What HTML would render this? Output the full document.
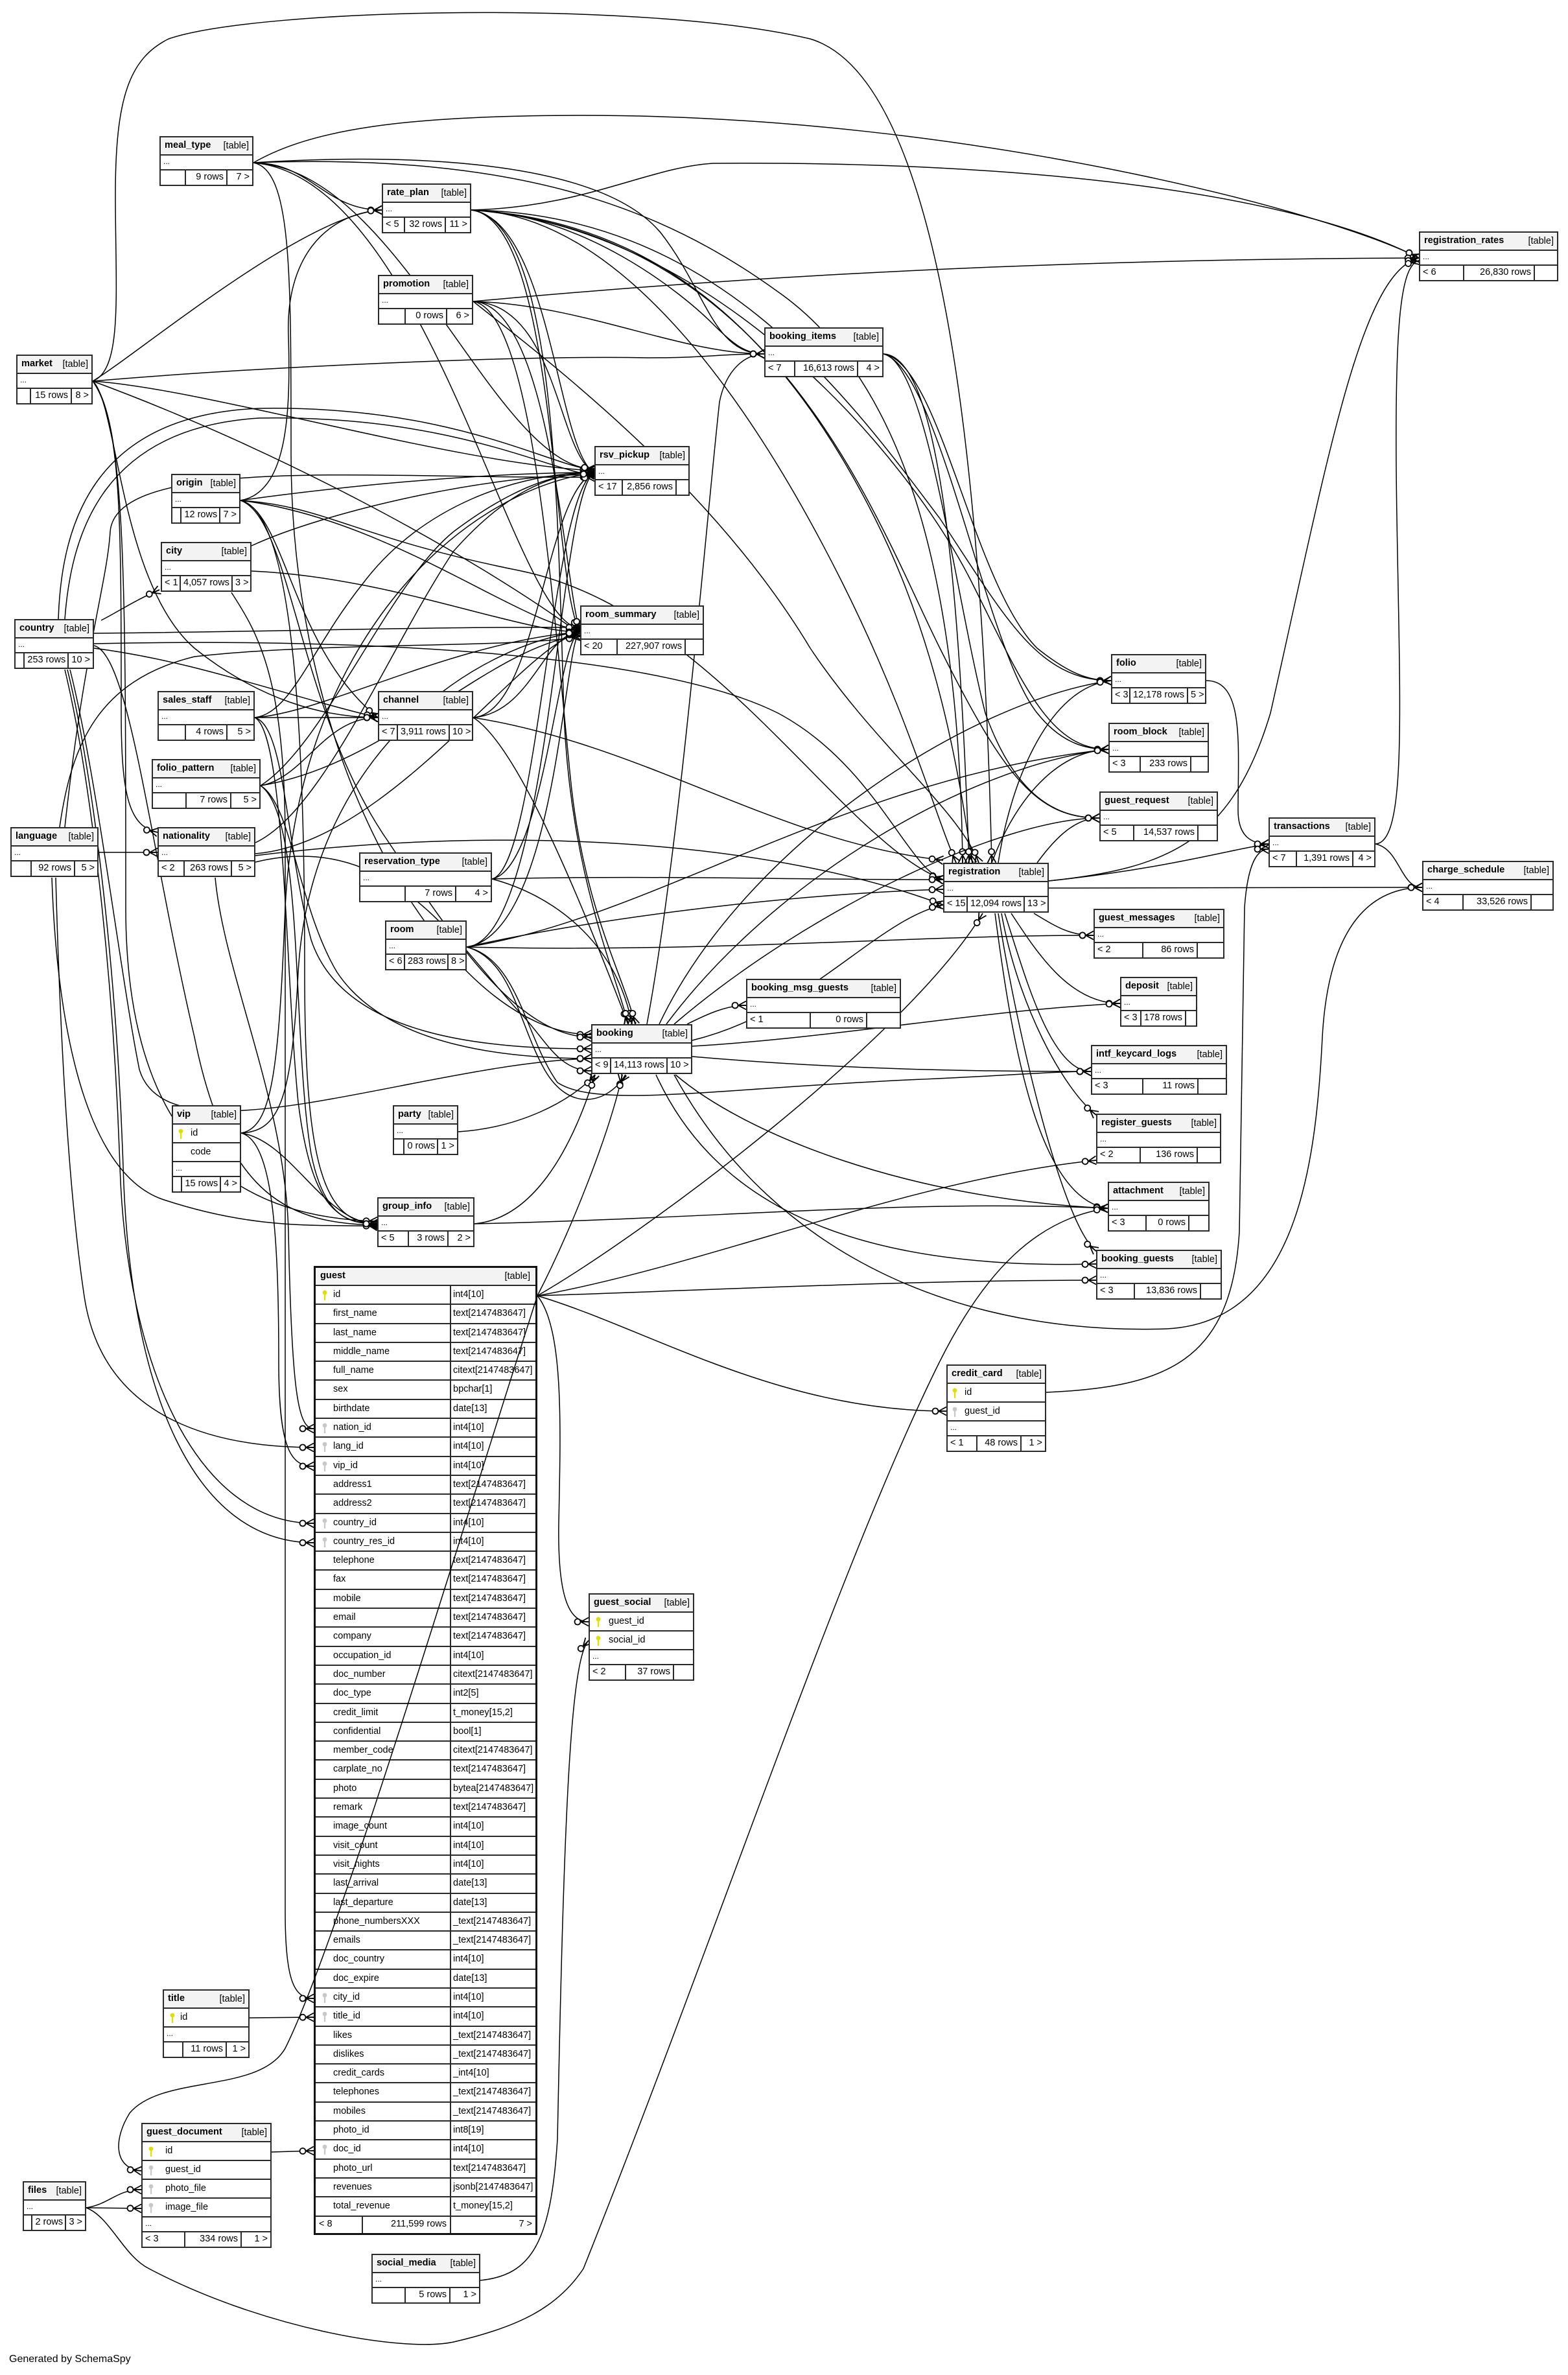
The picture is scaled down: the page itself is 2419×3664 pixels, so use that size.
<!DOCTYPE html>
<html><head><meta charset="utf-8">
<style>
html,body{margin:0;padding:0;background:#fff;}
body{width:2419px;height:3664px;position:relative;overflow:hidden;font-family:"Liberation Sans",Arial,sans-serif;color:#000;}
.t{position:absolute;z-index:2;border:2px solid #2a2a2a;background:#fff;box-sizing:border-box;font-size:14.5px;}
.h{height:28px;background:#f3f3f3;border-bottom:2px solid #2a2a2a;box-sizing:border-box;display:flex;justify-content:space-between;align-items:center;padding:0 5px 0 6px;white-space:nowrap;}
.h b{font-size:14.6px;margin-top:-3px;}
.r{height:29px;border-bottom:2px solid #2a2a2a;box-sizing:border-box;position:relative;white-space:nowrap;line-height:27px;padding-left:27px;}
.d{height:23px;border-bottom:2px solid #2a2a2a;box-sizing:border-box;font-size:12px;line-height:18px;padding-left:4px;}
.f{height:22px;display:flex;line-height:21px;white-space:nowrap;}
.f span{border-right:2px solid #2a2a2a;box-sizing:border-box;text-align:right;padding:0 4px;}
.f span:first-child{text-align:left;}
.f span:last-child{border-right:none;flex:1;}
.k{position:absolute;left:8px;top:6px;}
.gt{border:3px solid #111;}
.gt .h{height:28px;padding-left:7px;padding-right:8px;}
.g{height:29.3px;border-bottom:2px solid #2a2a2a;box-sizing:border-box;display:flex;line-height:27px;position:relative;white-space:nowrap;}
.g .n{width:209px;flex:none;border-right:2px solid #2a2a2a;box-sizing:border-box;padding-left:27px;}
.g .y{padding-left:3px;overflow:hidden;}
.g .k{left:10px;}
.gf{height:25px;display:flex;line-height:23px;white-space:nowrap;}
.gf span{border-right:2px solid #2a2a2a;box-sizing:border-box;text-align:right;padding:0 5px;}
.gf span:first-child{text-align:left;}
.gf span:last-child{border-right:none;flex:1;}
#edges{position:absolute;left:0;top:0;z-index:1;}
#over{position:absolute;left:0;top:0;z-index:3;}
.gen{position:absolute;left:14px;top:3631px;font-size:16px;}
</style></head><body>

<svg id="edges" width="2419" height="3664" viewBox="0 0 2419 3664">
<defs><marker id="cf" markerUnits="userSpaceOnUse" markerWidth="34" markerHeight="22" refX="30" refY="11" orient="auto" overflow="visible"><path d="M18,11 L30,4.5 M18,11 L30,11 M18,11 L30,17.5" stroke="#000" stroke-width="1.8" fill="none"/><circle cx="13" cy="11" r="4.5" fill="#fff" stroke="#000" stroke-width="1.8"/></marker></defs>
<g fill="none" stroke="#000" stroke-width="1.5" marker-end="url(#cf)">
<path d="M391,251 C480,251 500,324 589,324"/>
<path d="M391,251 C480,200 620,178 900,178 C1500,178 2060,330 2189,398"/>
<path d="M391,251 C650,235 930,250 1020,360 C1090,450 1100,546 1179,546"/>
<path d="M391,251 C450,262 449,420 449,700 C449,1200 700,1596 912,1596"/>
<path d="M391,251 C620,262 760,720 917,724"/>
<path d="M391,251 C660,275 790,960 895,970"/>
<path d="M391,251 C800,236 1020,320 1200,450 C1400,590 1480,900 1485,1331"/>
<path d="M143,588 C210,548 470,330 589,324"/>
<path d="M143,588 C190,570 178,450 178,300 C178,150 200,90 260,60 C400,12 1000,0 1250,60 C1450,120 1515,700 1530,1331"/>
<path d="M143,588 C400,566 800,548 1000,552 C1090,552 1110,546 1179,546"/>
<path d="M143,588 C420,690 720,850 895,978"/>
<path d="M143,588 C320,600 700,716 917,726"/>
<path d="M143,588 C181,620 185,900 300,1000 C400,1080 500,1107 583,1107"/>
<path d="M143,588 C187,650 187,800 187,1100 C187,1230 200,1275 243,1284"/>
<path d="M143,588 C194,650 194,900 194,1400 C194,1800 400,1880 582,1884"/>
<path d="M371,772 C600,740 800,729 917,729"/>
<path d="M371,772 C600,800 800,962 895,972"/>
<path d="M371,772 C440,760 449,650 445,520 C440,400 500,330 589,324"/>
<path d="M371,772 C440,790 450,1000 583,1107"/>
<path d="M371,772 C450,800 460,1100 600,1300 C700,1450 800,1600 912,1600"/>
<path d="M371,772 C460,790 470,1200 470,1500 C470,1800 500,1888 582,1888"/>
<path d="M371,772 C500,780 550,830 800,880 C1100,940 1300,1300 1455,1357"/>
<path d="M388,881 C600,890 800,975 895,975"/>
<path d="M388,842 C500,790 750,732 917,732"/>
<path d="M357,914 C400,980 440,1050 440,1300 L440,2950 C440,3060 455,3083 484,3083"/>
<path d="M156,957 C180,945 210,925 246,910"/>
<path d="M90,955 C95,800 150,640 400,630 C700,625 850,720 917,725"/>
<path d="M100,955 C110,820 160,660 400,645 C700,640 850,728 917,733"/>
<path d="M145,977 C400,975 700,966 895,968"/>
<path d="M145,993 C500,985 1000,1000 1200,1100 C1350,1180 1400,1340 1455,1357"/>
<path d="M145,1000 C300,1020 430,1070 583,1107"/>
<path d="M100,1033 C140,1200 175,1500 185,1800 C195,2100 300,2350 484,2350"/>
<path d="M104,1033 C145,1200 180,1500 190,1800 C200,2150 300,2380 484,2380"/>
<path d="M108,1033 C150,1200 185,1500 215,1650 C260,1800 650,1640 912,1633"/>
<path d="M145,996 C200,1010 230,1300 300,1600 C350,1850 450,1888 582,1890"/>
<path d="M393,1107 L583,1107"/>
<path d="M393,1107 C450,1100 480,1000 560,900 C650,780 800,729 917,729"/>
<path d="M393,1107 C500,1100 700,990 895,975"/>
<path d="M393,1107 C440,1120 440,1300 480,1450 C530,1600 750,1618 912,1618"/>
<path d="M393,1107 C440,1130 440,1500 460,1700 C480,1860 520,1888 582,1888"/>
<path d="M402,1212 C470,1200 500,1107 583,1107"/>
<path d="M402,1212 C500,1150 600,900 700,820 C780,760 850,729 917,729"/>
<path d="M402,1212 C600,1180 750,1000 895,980"/>
<path d="M402,1212 C450,1240 460,1400 520,1500 C600,1620 800,1633 912,1633"/>
<path d="M402,1212 C470,1260 450,1600 480,1780 C500,1880 540,1888 582,1888"/>
<path d="M152,1315 L243,1315"/>
<path d="M86,1354 C90,1500 100,1800 130,2000 C160,2200 350,2233 484,2233"/>
<path d="M92,1276 C110,1150 150,1050 300,1013 C500,990 800,1000 895,982"/>
<path d="M100,1276 C130,1000 165,900 170,820 C180,700 600,740 917,736"/>
<path d="M80,1354 C85,1500 110,1800 250,1850 C400,1900 500,1888 582,1892"/>
<path d="M332,1354 C345,1500 440,1700 445,1900 C450,2150 460,2204 484,2204"/>
<path d="M394,1300 C500,1250 600,1000 700,850 C780,760 850,729 917,729"/>
<path d="M394,1317 C600,1300 800,1000 895,975"/>
<path d="M394,1330 C600,1280 700,1450 800,1560 C840,1600 860,1652 912,1652"/>
<path d="M394,1320 C800,1270 1200,1300 1455,1396"/>
<path d="M730,1107 C830,1100 840,760 917,729"/>
<path d="M730,1107 C820,1100 840,975 895,975"/>
<path d="M730,1107 C800,1150 900,1400 969,1580"/>
<path d="M730,1107 C1000,1150 1200,1300 1455,1327"/>
<path d="M759,1356 C830,1340 850,760 917,729"/>
<path d="M759,1356 C840,1340 860,980 895,975"/>
<path d="M759,1356 C1000,1350 1200,1357 1455,1357"/>
<path d="M759,1356 C850,1380 950,1450 975,1580"/>
<path d="M720,1461 C850,1450 860,760 917,729"/>
<path d="M720,1461 C860,1440 870,980 895,975"/>
<path d="M720,1461 C900,1420 1200,1380 1455,1372"/>
<path d="M720,1461 C1100,1470 1400,1443 1687,1443"/>
<path d="M720,1461 C800,1480 810,1600 860,1670 C920,1710 1100,1680 1400,1666 C1550,1660 1620,1653 1683,1653"/>
<path d="M720,1461 C1000,1420 1300,1200 1710,1156"/>
<path d="M720,1461 C790,1480 800,1580 840,1650 C880,1720 940,1700 965,1658"/>
<path d="M727,324 C900,320 1000,258 1100,252 C1600,248 2000,300 2189,398"/>
<path d="M727,324 C900,330 1050,450 1100,500 C1130,530 1150,546 1179,546"/>
<path d="M727,324 C850,340 860,700 917,729"/>
<path d="M727,324 C860,340 850,900 895,975"/>
<path d="M727,324 C860,340 860,800 870,1100 C880,1350 950,1500 969,1580"/>
<path d="M727,324 C1000,340 1200,500 1350,800 C1450,1000 1480,1200 1500,1331"/>
<path d="M727,324 C1100,330 1300,600 1450,800 C1550,950 1600,1050 1714,1050"/>
<path d="M727,324 C1200,360 1350,800 1450,1000 C1550,1200 1600,1262 1696,1262"/>
<path d="M727,324 C1100,350 1400,700 1500,900 C1580,1060 1620,1156 1710,1156"/>
<path d="M727,324 C950,330 1150,600 1300,900 C1400,1100 1440,1250 1475,1331"/>
<path d="M730,465 C1000,440 1500,400 2189,398"/>
<path d="M730,465 C900,470 1050,546 1179,546"/>
<path d="M730,465 C860,470 860,700 917,729"/>
<path d="M730,465 C850,470 870,900 895,975"/>
<path d="M730,465 C850,560 1100,750 1250,1000 C1350,1150 1480,1250 1510,1331"/>
<path d="M730,465 C820,480 850,900 880,1200 C900,1400 960,1500 980,1580"/>
<path d="M1363,546 C1450,550 1480,900 1495,1331"/>
<path d="M1363,546 C1450,560 1500,900 1600,1000 C1650,1040 1680,1050 1714,1050"/>
<path d="M1363,546 C1450,570 1520,1000 1600,1100 C1640,1150 1680,1156 1710,1156"/>
<path d="M1363,546 C1430,560 1470,900 1520,1100 C1570,1240 1640,1262 1696,1262"/>
<path d="M1618,1359 C1800,1340 1900,1300 1960,1100 C2050,700 2100,420 2189,398"/>
<path d="M1618,1370 L2194,1369"/>
<path d="M1618,1359 C1800,1340 1900,1310 1957,1302"/>
<path d="M1595,1409 C1630,1430 1650,1443 1687,1443"/>
<path d="M1560,1409 C1600,1470 1650,1548 1728,1548"/>
<path d="M1550,1409 C1580,1500 1620,1653 1683,1653"/>
<path d="M1545,1409 C1570,1550 1640,1680 1691,1720"/>
<path d="M1535,1409 C1560,1600 1600,1850 1709,1864"/>
<path d="M1540,1409 C1570,1600 1640,1890 1691,1930"/>
<path d="M1540,1331 C1560,1200 1620,1060 1714,1050"/>
<path d="M1530,1331 C1560,1250 1620,1160 1710,1156"/>
<path d="M1600,1331 C1630,1290 1660,1262 1696,1262"/>
<path d="M1861,1050 C1920,1050 1910,1150 1910,1250 C1910,1290 1930,1302 1957,1302"/>
<path d="M2122,1302 C2170,1300 2160,1100 2155,800 C2150,500 2160,410 2189,402"/>
<path d="M2122,1302 C2160,1310 2160,1369 2194,1369"/>
<path d="M1614,2148 C1800,2140 1900,2100 1912,1900 L1920,1400 C1925,1330 1940,1310 1957,1310"/>
<path d="M1060,1580 C1090,1565 1120,1551 1151,1551"/>
<path d="M998,1580 C1050,1300 1090,800 1110,620 C1120,570 1150,546 1179,546"/>
<path d="M1017,1580 C1150,1300 1500,1080 1714,1050"/>
<path d="M1028,1580 C1200,1350 1500,1180 1710,1156"/>
<path d="M1040,1580 C1250,1400 1550,1262 1696,1262"/>
<path d="M1068,1605 C1250,1560 1350,1420 1455,1396"/>
<path d="M1068,1614 C1300,1600 1500,1560 1728,1548"/>
<path d="M1068,1630 C1300,1650 1500,1653 1683,1653"/>
<path d="M1012,1658 C1100,1850 1300,1960 1691,1950"/>
<path d="M1040,1658 C1200,1950 1500,2060 1800,2050 C2000,2040 2030,1800 2040,1600 C2050,1420 2120,1370 2194,1369"/>
<path d="M1042,1658 C1150,1750 1400,1850 1709,1864"/>
<path d="M707,1746 C800,1740 880,1700 918,1658"/>
<path d="M372,1748 C420,1760 430,1900 430,2100 C430,2240 450,2262 484,2262"/>
<path d="M372,1748 C450,1760 500,1888 582,1888"/>
<path d="M372,1748 C420,1740 430,1650 440,1400 C460,1000 700,760 917,729"/>
<path d="M372,1748 C430,1745 450,1700 460,1500 C480,1150 750,990 895,975"/>
<path d="M732,1888 C820,1880 880,1780 918,1658"/>
<path d="M732,1888 C1100,1880 1400,1850 1709,1864"/>
<path d="M829,1999 C1000,2050 1200,2177 1460,2177"/>
<path d="M829,1999 C870,2050 865,2200 862,2350 C860,2470 880,2502 908,2502"/>
<path d="M829,1999 C1100,1990 1400,1975 1691,1975"/>
<path d="M829,1999 C1100,1950 1400,1820 1691,1790"/>
<path d="M829,1999 C880,1900 940,1750 960,1658"/>
<path d="M829,1999 C1000,1900 1400,1600 1516,1409"/>
<path d="M385,3113 L484,3112"/>
<path d="M419,3320 L484,3318"/>
<path d="M133,3406 C170,3400 180,3378 218,3378"/>
<path d="M133,3406 L218,3407"/>
<path d="M133,3406 C170,3420 190,3480 230,3500 C400,3590 620,3630 700,3613 C800,3590 860,3560 900,3500 C1100,3000 1300,2400 1450,2100 C1520,1960 1600,1880 1709,1864"/>
<path d="M741,3518 C820,3510 850,3460 860,3300 C870,2800 880,2560 908,2531"/>
</g>
</svg>

<svg id="over" width="2419" height="3664" viewBox="0 0 2419 3664" style="pointer-events:none">
<defs><marker id="cf2" markerUnits="userSpaceOnUse" markerWidth="34" markerHeight="22" refX="30" refY="11" orient="auto" overflow="visible"><path d="M18,11 L30,4.5 M18,11 L30,11 M18,11 L30,17.5" stroke="#000" stroke-width="1.8" fill="none"/><circle cx="13" cy="11" r="4.5" fill="#fff" stroke="#000" stroke-width="1.8"/></marker></defs>
<path d="M829,1999 C700,2400 520,3000 440,3160 C400,3230 250,3200 200,3260 C175,3300 175,3345 218,3349" fill="none" stroke="#000" stroke-width="1.5" marker-end="url(#cf2)"/>
</svg>

<div class="t" style="left:246px;top:210px;width:145px"><div class="h"><b>meal_type</b><span>[table]</span></div><div class="d">...</div><div class="f"><span style="width:39px"></span><span style="width:64px">9 rows</span><span>7 &gt;</span></div></div>
<div class="t" style="left:589px;top:283px;width:138px"><div class="h"><b>rate_plan</b><span>[table]</span></div><div class="d">...</div><div class="f"><span style="width:34px">&lt; 5</span><span style="width:63px">32 rows</span><span>11 &gt;</span></div></div>
<div class="t" style="left:583px;top:424px;width:147px"><div class="h"><b>promotion</b><span>[table]</span></div><div class="d">...</div><div class="f"><span style="width:41px"></span><span style="width:64px">0 rows</span><span>6 &gt;</span></div></div>
<div class="t" style="left:25px;top:547px;width:118px"><div class="h"><b>market</b><span>[table]</span></div><div class="d">...</div><div class="f"><span style="width:21px"></span><span style="width:63px">15 rows</span><span>8 &gt;</span></div></div>
<div class="t" style="left:1179px;top:505px;width:184px"><div class="h"><b>booking_items</b><span>[table]</span></div><div class="d">...</div><div class="f"><span style="width:46px">&lt; 7</span><span style="width:97px">16,613 rows</span><span>4 &gt;</span></div></div>
<div class="t" style="left:2189px;top:357px;width:215px"><div class="h"><b>registration_rates</b><span>[table]</span></div><div class="d">...</div><div class="f"><span style="width:68px">&lt; 6</span><span style="width:109px">26,830 rows</span><span></span></div></div>
<div class="t" style="left:917px;top:688px;width:147px"><div class="h"><b>rsv_pickup</b><span>[table]</span></div><div class="d">...</div><div class="f"><span style="width:42px">&lt; 17</span><span style="width:83px">2,856 rows</span><span></span></div></div>
<div class="t" style="left:264px;top:731px;width:107px"><div class="h"><b>origin</b><span>[table]</span></div><div class="d">...</div><div class="f"><span style="width:17px"></span><span style="width:60px">12 rows</span><span>7 &gt;</span></div></div>
<div class="t" style="left:248px;top:836px;width:140px"><div class="h"><b>city</b><span>[table]</span></div><div class="d">...</div><div class="f"><span style="width:29px">&lt; 1</span><span style="width:80px">4,057 rows</span><span>3 &gt;</span></div></div>
<div class="t" style="left:895px;top:934px;width:191px"><div class="h"><b>room_summary</b><span>[table]</span></div><div class="d">...</div><div class="f"><span style="width:56px">&lt; 20</span><span style="width:105px">227,907 rows</span><span></span></div></div>
<div class="t" style="left:22px;top:955px;width:123px"><div class="h"><b>country</b><span>[table]</span></div><div class="d">...</div><div class="f"><span style="width:16px"></span><span style="width:68px">253 rows</span><span>10 &gt;</span></div></div>
<div class="t" style="left:1714px;top:1009px;width:147px"><div class="h"><b>folio</b><span>[table]</span></div><div class="d">...</div><div class="f"><span style="width:28px">&lt; 3</span><span style="width:89px">12,178 rows</span><span>5 &gt;</span></div></div>
<div class="t" style="left:243px;top:1066px;width:150px"><div class="h"><b>sales_staff</b><span>[table]</span></div><div class="d">...</div><div class="f"><span style="width:42px"></span><span style="width:64px">4 rows</span><span>5 &gt;</span></div></div>
<div class="t" style="left:583px;top:1066px;width:147px"><div class="h"><b>channel</b><span>[table]</span></div><div class="d">...</div><div class="f"><span style="width:29px">&lt; 7</span><span style="width:80px">3,911 rows</span><span>10 &gt;</span></div></div>
<div class="t" style="left:1710px;top:1115px;width:155px"><div class="h"><b>room_block</b><span>[table]</span></div><div class="d">...</div><div class="f"><span style="width:48px">&lt; 3</span><span style="width:78px">233 rows</span><span></span></div></div>
<div class="t" style="left:234px;top:1171px;width:168px"><div class="h"><b>folio_pattern</b><span>[table]</span></div><div class="d">...</div><div class="f"><span style="width:52px"></span><span style="width:69px">7 rows</span><span>5 &gt;</span></div></div>
<div class="t" style="left:1696px;top:1221px;width:183px"><div class="h"><b>guest_request</b><span>[table]</span></div><div class="d">...</div><div class="f"><span style="width:52px">&lt; 5</span><span style="width:99px">14,537 rows</span><span></span></div></div>
<div class="t" style="left:1957px;top:1261px;width:165px"><div class="h"><b>transactions</b><span>[table]</span></div><div class="d">...</div><div class="f"><span style="width:42px">&lt; 7</span><span style="width:87px">1,391 rows</span><span>4 &gt;</span></div></div>
<div class="t" style="left:16px;top:1276px;width:136px"><div class="h"><b>language</b><span>[table]</span></div><div class="d">...</div><div class="f"><span style="width:31px"></span><span style="width:67px">92 rows</span><span>5 &gt;</span></div></div>
<div class="t" style="left:243px;top:1276px;width:151px"><div class="h"><b>nationality</b><span>[table]</span></div><div class="d">...</div><div class="f"><span style="width:40px">&lt; 2</span><span style="width:73px">263 rows</span><span>5 &gt;</span></div></div>
<div class="t" style="left:1455px;top:1331px;width:163px"><div class="h"><b>registration</b><span>[table]</span></div><div class="d">...</div><div class="f"><span style="width:36px">&lt; 15</span><span style="width:88px">12,094 rows</span><span>13 &gt;</span></div></div>
<div class="t" style="left:2194px;top:1328px;width:203px"><div class="h"><b>charge_schedule</b><span>[table]</span></div><div class="d">...</div><div class="f"><span style="width:62px">&lt; 4</span><span style="width:105px">33,526 rows</span><span></span></div></div>
<div class="t" style="left:554px;top:1315px;width:205px"><div class="h"><b>reservation_type</b><span>[table]</span></div><div class="d">...</div><div class="f"><span style="width:70px"></span><span style="width:78px">7 rows</span><span>4 &gt;</span></div></div>
<div class="t" style="left:1687px;top:1402px;width:202px"><div class="h"><b>guest_messages</b><span>[table]</span></div><div class="d">...</div><div class="f"><span style="width:75px">&lt; 2</span><span style="width:84px">86 rows</span><span></span></div></div>
<div class="t" style="left:594px;top:1420px;width:126px"><div class="h"><b>room</b><span>[table]</span></div><div class="d">...</div><div class="f"><span style="width:29px">&lt; 6</span><span style="width:67px">283 rows</span><span>8 &gt;</span></div></div>
<div class="t" style="left:1151px;top:1510px;width:239px"><div class="h"><b>booking_msg_guests</b><span>[table]</span></div><div class="d">...</div><div class="f"><span style="width:98px">&lt; 1</span><span style="width:87px">0 rows</span><span></span></div></div>
<div class="t" style="left:1728px;top:1507px;width:119px"><div class="h"><b>deposit</b><span>[table]</span></div><div class="d">...</div><div class="f"><span style="width:31px">&lt; 3</span><span style="width:69px">178 rows</span><span></span></div></div>
<div class="t" style="left:912px;top:1580px;width:156px"><div class="h"><b>booking</b><span>[table]</span></div><div class="d">...</div><div class="f"><span style="width:29px">&lt; 9</span><span style="width:87px">14,113 rows</span><span>10 &gt;</span></div></div>
<div class="t" style="left:1683px;top:1612px;width:210px"><div class="h"><b>intf_keycard_logs</b><span>[table]</span></div><div class="d">...</div><div class="f"><span style="width:79px">&lt; 3</span><span style="width:85px">11 rows</span><span></span></div></div>
<div class="t" style="left:606px;top:1705px;width:101px"><div class="h"><b>party</b><span>[table]</span></div><div class="d">...</div><div class="f"><span style="width:18px"></span><span style="width:52px">0 rows</span><span>1 &gt;</span></div></div>
<div class="t" style="left:265px;top:1705px;width:107px"><div class="h"><b>vip</b><span>[table]</span></div>
<div class="r"><svg class="k" width="8" height="16" viewBox="0 0 8 16"><circle cx="4" cy="4" r="3.4" fill="#e0e000"/><rect x="2.9" y="6" width="2.3" height="10" fill="#e0e000"/></svg>id</div>
<div class="r">code</div>
<div class="d">...</div><div class="f"><span style="width:16px"></span><span style="width:60px">15 rows</span><span>4 &gt;</span></div></div>
<div class="t" style="left:1691px;top:1718px;width:193px"><div class="h"><b>register_guests</b><span>[table]</span></div><div class="d">...</div><div class="f"><span style="width:67px">&lt; 2</span><span style="width:88px">136 rows</span><span></span></div></div>
<div class="t" style="left:1709px;top:1823px;width:157px"><div class="h"><b>attachment</b><span>[table]</span></div><div class="d">...</div><div class="f"><span style="width:58px">&lt; 3</span><span style="width:66px">0 rows</span><span></span></div></div>
<div class="t" style="left:582px;top:1847px;width:150px"><div class="h"><b>group_info</b><span>[table]</span></div><div class="d">...</div><div class="f"><span style="width:47px">&lt; 5</span><span style="width:61px">3 rows</span><span>2 &gt;</span></div></div>
<div class="t" style="left:1691px;top:1928px;width:194px"><div class="h"><b>booking_guests</b><span>[table]</span></div><div class="d">...</div><div class="f"><span style="width:58px">&lt; 3</span><span style="width:102px">13,836 rows</span><span></span></div></div>

<div class="t" style="left:1460px;top:2105px;width:154px"><div class="h"><b>credit_card</b><span>[table]</span></div>
<div class="r" style="padding-left:26px"><svg class="k" style="left:7px" width="8" height="16" viewBox="0 0 8 16"><circle cx="4" cy="4" r="3.4" fill="#e0e000"/><rect x="2.9" y="6" width="2.3" height="10" fill="#e0e000"/></svg>id</div>
<div class="r" style="padding-left:26px"><svg class="k" style="left:7px" width="8" height="16" viewBox="0 0 8 16"><circle cx="4" cy="4" r="3.4" fill="#c8c8c8"/><rect x="2.9" y="6" width="2.3" height="10" fill="#c8c8c8"/></svg>guest_id</div>
<div class="d">...</div><div class="f"><span style="width:46px">&lt; 1</span><span style="width:68px">48 rows</span><span>1 &gt;</span></div></div>

<div class="t" style="left:908px;top:2458px;width:163px"><div class="h"><b>guest_social</b><span>[table]</span></div>
<div class="r" style="padding-left:29px"><svg class="k" style="left:9px" width="8" height="16" viewBox="0 0 8 16"><circle cx="4" cy="4" r="3.4" fill="#e0e000"/><rect x="2.9" y="6" width="2.3" height="10" fill="#e0e000"/></svg>guest_id</div>
<div class="r" style="padding-left:29px"><svg class="k" style="left:9px" width="8" height="16" viewBox="0 0 8 16"><circle cx="4" cy="4" r="3.4" fill="#e0e000"/><rect x="2.9" y="6" width="2.3" height="10" fill="#e0e000"/></svg>social_id</div>
<div class="d">...</div><div class="f"><span style="width:56px">&lt; 2</span><span style="width:74px">37 rows</span><span></span></div></div>

<div class="t" style="left:251px;top:3069px;width:134px"><div class="h"><b>title</b><span>[table]</span></div>
<div class="r" style="padding-left:25px"><svg class="k" style="left:9px" width="8" height="16" viewBox="0 0 8 16"><circle cx="4" cy="4" r="3.4" fill="#e0e000"/><rect x="2.9" y="6" width="2.3" height="10" fill="#e0e000"/></svg>id</div>
<div class="d">...</div><div class="f"><span style="width:30px"></span><span style="width:67px">11 rows</span><span>1 &gt;</span></div></div>

<div class="t" style="left:218px;top:3275px;width:201px"><div class="h"><b>guest_document</b><span>[table]</span></div>
<div class="r" style="padding-left:35px"><svg class="k" style="left:9px" width="8" height="16" viewBox="0 0 8 16"><circle cx="4" cy="4" r="3.4" fill="#e0e000"/><rect x="2.9" y="6" width="2.3" height="10" fill="#e0e000"/></svg>id</div>
<div class="r" style="padding-left:35px"><svg class="k" style="left:9px" width="8" height="16" viewBox="0 0 8 16"><circle cx="4" cy="4" r="3.4" fill="#c8c8c8"/><rect x="2.9" y="6" width="2.3" height="10" fill="#c8c8c8"/></svg>guest_id</div>
<div class="r" style="padding-left:35px"><svg class="k" style="left:9px" width="8" height="16" viewBox="0 0 8 16"><circle cx="4" cy="4" r="3.4" fill="#c8c8c8"/><rect x="2.9" y="6" width="2.3" height="10" fill="#c8c8c8"/></svg>photo_file</div>
<div class="r" style="padding-left:35px"><svg class="k" style="left:9px" width="8" height="16" viewBox="0 0 8 16"><circle cx="4" cy="4" r="3.4" fill="#c8c8c8"/><rect x="2.9" y="6" width="2.3" height="10" fill="#c8c8c8"/></svg>image_file</div>
<div class="d">...</div><div class="f"><span style="width:66px">&lt; 3</span><span style="width:87px">334 rows</span><span>1 &gt;</span></div></div>

<div class="t" style="left:35px;top:3365px;width:98px"><div class="h"><b>files</b><span>[table]</span></div><div class="d">...</div><div class="f"><span style="width:16px"></span><span style="width:52px">2 rows</span><span>3 &gt;</span></div></div>
<div class="t" style="left:573px;top:3477px;width:168px"><div class="h"><b>social_media</b><span>[table]</span></div><div class="d">...</div><div class="f"><span style="width:51px"></span><span style="width:69px">5 rows</span><span>1 &gt;</span></div></div>

<div class="t gt" style="left:484px;top:1953px;width:345px"><div class="h"><b>guest</b><span>[table]</span></div>
<div class="g"><svg class="k" width="8" height="16" viewBox="0 0 8 16"><circle cx="4" cy="4" r="3.4" fill="#e0e000"/><rect x="2.9" y="6" width="2.3" height="10" fill="#e0e000"/></svg><span class="n">id</span><span class="y">int4[10]</span></div>
<div class="g"><span class="n">first_name</span><span class="y">text[2147483647]</span></div>
<div class="g"><span class="n">last_name</span><span class="y">text[2147483647]</span></div>
<div class="g"><span class="n">middle_name</span><span class="y">text[2147483647]</span></div>
<div class="g"><span class="n">full_name</span><span class="y">citext[2147483647]</span></div>
<div class="g"><span class="n">sex</span><span class="y">bpchar[1]</span></div>
<div class="g"><span class="n">birthdate</span><span class="y">date[13]</span></div>
<div class="g"><svg class="k" width="8" height="16" viewBox="0 0 8 16"><circle cx="4" cy="4" r="3.4" fill="#c8c8c8"/><rect x="2.9" y="6" width="2.3" height="10" fill="#c8c8c8"/></svg><span class="n">nation_id</span><span class="y">int4[10]</span></div>
<div class="g"><svg class="k" width="8" height="16" viewBox="0 0 8 16"><circle cx="4" cy="4" r="3.4" fill="#c8c8c8"/><rect x="2.9" y="6" width="2.3" height="10" fill="#c8c8c8"/></svg><span class="n">lang_id</span><span class="y">int4[10]</span></div>
<div class="g"><svg class="k" width="8" height="16" viewBox="0 0 8 16"><circle cx="4" cy="4" r="3.4" fill="#c8c8c8"/><rect x="2.9" y="6" width="2.3" height="10" fill="#c8c8c8"/></svg><span class="n">vip_id</span><span class="y">int4[10]</span></div>
<div class="g"><span class="n">address1</span><span class="y">text[2147483647]</span></div>
<div class="g"><span class="n">address2</span><span class="y">text[2147483647]</span></div>
<div class="g"><svg class="k" width="8" height="16" viewBox="0 0 8 16"><circle cx="4" cy="4" r="3.4" fill="#c8c8c8"/><rect x="2.9" y="6" width="2.3" height="10" fill="#c8c8c8"/></svg><span class="n">country_id</span><span class="y">int4[10]</span></div>
<div class="g"><svg class="k" width="8" height="16" viewBox="0 0 8 16"><circle cx="4" cy="4" r="3.4" fill="#c8c8c8"/><rect x="2.9" y="6" width="2.3" height="10" fill="#c8c8c8"/></svg><span class="n">country_res_id</span><span class="y">int4[10]</span></div>
<div class="g"><span class="n">telephone</span><span class="y">text[2147483647]</span></div>
<div class="g"><span class="n">fax</span><span class="y">text[2147483647]</span></div>
<div class="g"><span class="n">mobile</span><span class="y">text[2147483647]</span></div>
<div class="g"><span class="n">email</span><span class="y">text[2147483647]</span></div>
<div class="g"><span class="n">company</span><span class="y">text[2147483647]</span></div>
<div class="g"><span class="n">occupation_id</span><span class="y">int4[10]</span></div>
<div class="g"><span class="n">doc_number</span><span class="y">citext[2147483647]</span></div>
<div class="g"><span class="n">doc_type</span><span class="y">int2[5]</span></div>
<div class="g"><span class="n">credit_limit</span><span class="y">t_money[15,2]</span></div>
<div class="g"><span class="n">confidential</span><span class="y">bool[1]</span></div>
<div class="g"><span class="n">member_code</span><span class="y">citext[2147483647]</span></div>
<div class="g"><span class="n">carplate_no</span><span class="y">text[2147483647]</span></div>
<div class="g"><span class="n">photo</span><span class="y">bytea[2147483647]</span></div>
<div class="g"><span class="n">remark</span><span class="y">text[2147483647]</span></div>
<div class="g"><span class="n">image_count</span><span class="y">int4[10]</span></div>
<div class="g"><span class="n">visit_count</span><span class="y">int4[10]</span></div>
<div class="g"><span class="n">visit_nights</span><span class="y">int4[10]</span></div>
<div class="g"><span class="n">last_arrival</span><span class="y">date[13]</span></div>
<div class="g"><span class="n">last_departure</span><span class="y">date[13]</span></div>
<div class="g"><span class="n">phone_numbersXXX</span><span class="y">_text[2147483647]</span></div>
<div class="g"><span class="n">emails</span><span class="y">_text[2147483647]</span></div>
<div class="g"><span class="n">doc_country</span><span class="y">int4[10]</span></div>
<div class="g"><span class="n">doc_expire</span><span class="y">date[13]</span></div>
<div class="g"><svg class="k" width="8" height="16" viewBox="0 0 8 16"><circle cx="4" cy="4" r="3.4" fill="#c8c8c8"/><rect x="2.9" y="6" width="2.3" height="10" fill="#c8c8c8"/></svg><span class="n">city_id</span><span class="y">int4[10]</span></div>
<div class="g"><svg class="k" width="8" height="16" viewBox="0 0 8 16"><circle cx="4" cy="4" r="3.4" fill="#c8c8c8"/><rect x="2.9" y="6" width="2.3" height="10" fill="#c8c8c8"/></svg><span class="n">title_id</span><span class="y">int4[10]</span></div>
<div class="g"><span class="n">likes</span><span class="y">_text[2147483647]</span></div>
<div class="g"><span class="n">dislikes</span><span class="y">_text[2147483647]</span></div>
<div class="g"><span class="n">credit_cards</span><span class="y">_int4[10]</span></div>
<div class="g"><span class="n">telephones</span><span class="y">_text[2147483647]</span></div>
<div class="g"><span class="n">mobiles</span><span class="y">_text[2147483647]</span></div>
<div class="g"><span class="n">photo_id</span><span class="y">int8[19]</span></div>
<div class="g"><svg class="k" width="8" height="16" viewBox="0 0 8 16"><circle cx="4" cy="4" r="3.4" fill="#c8c8c8"/><rect x="2.9" y="6" width="2.3" height="10" fill="#c8c8c8"/></svg><span class="n">doc_id</span><span class="y">int4[10]</span></div>
<div class="g"><span class="n">photo_url</span><span class="y">text[2147483647]</span></div>
<div class="g"><span class="n">revenues</span><span class="y">jsonb[2147483647]</span></div>
<div class="g"><span class="n">total_revenue</span><span class="y">t_money[15,2]</span></div>
<div class="gf"><span style="width:73px">&lt; 8</span><span style="width:136px">211,599 rows</span><span>7 &gt;</span></div>
</div>

<div class="gen">Generated by SchemaSpy</div>
</body></html>
